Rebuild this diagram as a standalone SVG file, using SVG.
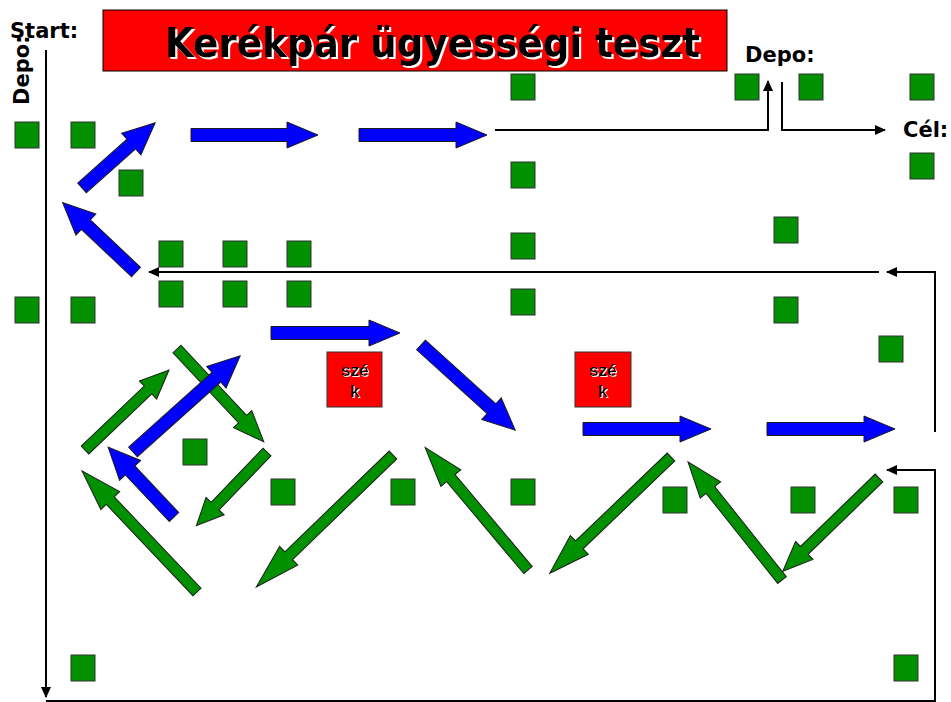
<svg xmlns="http://www.w3.org/2000/svg" width="951" height="702" viewBox="0 0 951 702">
<style>
.sq{fill:#009000;stroke:#333;stroke-width:1}
.ga{fill:#009000;stroke:#1a1a1a;stroke-width:1}
.ba{fill:#0000ff;stroke:#1a1a1a;stroke-width:1}
.ln{fill:none;stroke:#000;stroke-width:2}
.lbl{font-family:"DejaVu Sans",Verdana,sans-serif;font-weight:bold;font-size:21px;fill:#000}
.ttl{font-family:"DejaVu Sans",Verdana,sans-serif;font-weight:bold;font-size:40px;fill:#000}
.chair{font-family:"Liberation Sans",Arial,sans-serif;font-weight:bold;font-size:17px;text-anchor:middle;fill:#000}
</style>
<defs>
<marker id="ah" markerUnits="userSpaceOnUse" markerWidth="12" markerHeight="10" refX="10" refY="5" orient="auto">
<path d="M0,0 L11,5 L0,10 Z" fill="#000"/>
</marker>
<filter id="sh2" x="-5%" y="-20%" width="110%" height="140%">
<feFlood flood-color="#fff" result="w"/>
<feComposite in="w" in2="SourceAlpha" operator="in" result="ws"/>
<feOffset in="ws" dx="2" dy="2" result="off"/>
<feMerge><feMergeNode in="off"/><feMergeNode in="SourceGraphic"/></feMerge>
</filter>
<filter id="sh1" x="-10%" y="-20%" width="120%" height="140%">
<feFlood flood-color="#fff" result="w"/>
<feComposite in="w" in2="SourceAlpha" operator="in" result="ws"/>
<feOffset in="ws" dx="1" dy="1" result="off"/>
<feMerge><feMergeNode in="off"/><feMergeNode in="SourceGraphic"/></feMerge>
</filter>
</defs>
<rect width="951" height="702" fill="#fff"/>

<g id="title">
<rect x="103" y="10" width="624" height="61" fill="#ff0000" stroke="#000" stroke-width="1"/>
<text class="ttl" x="165" y="57" filter="url(#sh2)" textLength="535" lengthAdjust="spacingAndGlyphs">Kerékpár ügyességi teszt</text>
</g>

<g id="labels">
<text class="lbl" x="10" y="38">Start:</text>
<text class="lbl" transform="translate(29,105) rotate(-90)">Depo:</text>
<text class="lbl" x="745" y="62">Depo:</text>
<text class="lbl" x="903" y="137">Cél:</text>
</g>

<g id="connectors">
<path class="ln" d="M46,50 V697" marker-end="url(#ah)"/>
<path class="ln" d="M46,701 H935 V470 H887" marker-end="url(#ah)"/>
<path class="ln" d="M935,432 V272 H887" marker-end="url(#ah)"/>
<path class="ln" d="M879,272 H149" marker-end="url(#ah)"/>
<path class="ln" d="M495,130 H768 V81" marker-end="url(#ah)"/>
<path class="ln" d="M782,82 V130 H885" marker-end="url(#ah)"/>
</g>

<g id="cones">
<rect class="sq" x="15" y="122" width="24" height="26"/>
<rect class="sq" x="71" y="122" width="24" height="26"/>
<rect class="sq" x="119" y="170" width="24" height="26"/>
<rect class="sq" x="511" y="74" width="24" height="26"/>
<rect class="sq" x="735" y="74" width="24" height="26"/>
<rect class="sq" x="799" y="74" width="24" height="26"/>
<rect class="sq" x="910" y="74" width="24" height="26"/>
<rect class="sq" x="910" y="153" width="24" height="26"/>
<rect class="sq" x="511" y="162" width="24" height="26"/>
<rect class="sq" x="511" y="233" width="24" height="26"/>
<rect class="sq" x="511" y="289" width="24" height="26"/>
<rect class="sq" x="159" y="241" width="24" height="26"/>
<rect class="sq" x="223" y="241" width="24" height="26"/>
<rect class="sq" x="287" y="241" width="24" height="26"/>
<rect class="sq" x="159" y="281" width="24" height="26"/>
<rect class="sq" x="223" y="281" width="24" height="26"/>
<rect class="sq" x="287" y="281" width="24" height="26"/>
<rect class="sq" x="15" y="297" width="24" height="26"/>
<rect class="sq" x="71" y="297" width="24" height="26"/>
<rect class="sq" x="774" y="217" width="24" height="26"/>
<rect class="sq" x="774" y="297" width="24" height="26"/>
<rect class="sq" x="879" y="336" width="24" height="26"/>
<rect class="sq" x="183" y="439" width="24" height="26"/>
<rect class="sq" x="271" y="479" width="24" height="26"/>
<rect class="sq" x="391" y="479" width="24" height="26"/>
<rect class="sq" x="511" y="479" width="24" height="26"/>
<rect class="sq" x="663" y="487" width="24" height="26"/>
<rect class="sq" x="791" y="487" width="24" height="26"/>
<rect class="sq" x="894" y="487" width="24" height="26"/>
<rect class="sq" x="71" y="655" width="24" height="26"/>
<rect class="sq" x="894" y="655" width="24" height="26"/>
</g>

<g id="chair1">
<rect x="327" y="352" width="55" height="55" fill="#ff0000" stroke="#333" stroke-width="1"/>
<text class="chair" x="355" y="376" filter="url(#sh1)">szé</text>
<text class="chair" x="355" y="397" filter="url(#sh1)">k</text>
</g>
<g id="chair2">
<rect x="575" y="352" width="56" height="55" fill="#ff0000" stroke="#333" stroke-width="1"/>
<text class="chair" x="603" y="376" filter="url(#sh1)">szé</text>
<text class="chair" x="603" y="397" filter="url(#sh1)">k</text>
</g>

<g id="green-arrows">
<polygon class="ga" transform="translate(85,450) rotate(-43.6)" points="0,-5.5 87,-5.5 87,-12.5 116,0 87,12.5 87,5.5 0,5.5"/>
<polygon class="ga" transform="translate(177,349) rotate(46.9)" points="0,-5.5 96,-5.5 96,-12.5 127,0 96,12.5 96,5.5 0,5.5"/>
<polygon class="ga" transform="translate(267,452) rotate(133.8)" points="0,-5.5 75,-5.5 75,-12.5 102,0 75,12.5 75,5.5 0,5.5"/>
<polygon class="ga" transform="translate(197,592) rotate(-133.5)" points="0,-5.5 126,-5.5 126,-13 167,0 126,13 126,5.5 0,5.5"/>
<polygon class="ga" transform="translate(393,455) rotate(136)" points="0,-5.5 145,-5.5 145,-13 190,0 145,13 145,5.5 0,5.5"/>
<polygon class="ga" transform="translate(528,570) rotate(-130)" points="0,-5.5 120,-5.5 120,-13 160,0 120,13 120,5.5 0,5.5"/>
<polygon class="ga" transform="translate(671,457) rotate(136.2)" points="0,-5.5 127,-5.5 127,-13 168,0 127,13 127,5.5 0,5.5"/>
<polygon class="ga" transform="translate(782,580) rotate(-128.5)" points="0,-5.5 115,-5.5 115,-13 151,0 115,13 115,5.5 0,5.5"/>
<polygon class="ga" transform="translate(879,478) rotate(135.9)" points="0,-5.5 104,-5.5 104,-12.5 134,0 104,12.5 104,5.5 0,5.5"/>
</g>

<g id="blue-arrows">
<polygon class="ba" transform="translate(191,135)" points="0,-6.5 96,-6.5 96,-13 127,0 96,13 96,6.5 0,6.5"/>
<polygon class="ba" transform="translate(359,135)" points="0,-6.5 97,-6.5 97,-13 128,0 97,13 97,6.5 0,6.5"/>
<polygon class="ba" transform="translate(271,333)" points="0,-6.5 98,-6.5 98,-13 129,0 98,13 98,6.5 0,6.5"/>
<polygon class="ba" transform="translate(583,429)" points="0,-6.5 97,-6.5 97,-13 128,0 97,13 97,6.5 0,6.5"/>
<polygon class="ba" transform="translate(767,429)" points="0,-6.5 97,-6.5 97,-13 128,0 97,13 97,6.5 0,6.5"/>
<polygon class="ba" transform="translate(82,188) rotate(-41.7)" points="0,-6.5 66,-6.5 66,-14.5 98,0 66,14.5 66,6.5 0,6.5"/>
<polygon class="ba" transform="translate(136,272) rotate(-136.6)" points="0,-6.5 69,-6.5 69,-14.5 101,0 69,14.5 69,6.5 0,6.5"/>
<polygon class="ba" transform="translate(421,345) rotate(42.1)" points="0,-6.5 95,-6.5 95,-14.5 127,0 95,14.5 95,6.5 0,6.5"/>
<polygon class="ba" transform="translate(133,452) rotate(-41.9)" points="0,-6.5 112,-6.5 112,-14.5 144,0 112,14.5 112,6.5 0,6.5"/>
<polygon class="ba" transform="translate(174,517) rotate(-133.3)" points="0,-6.5 64,-6.5 64,-14.5 96,0 64,14.5 64,6.5 0,6.5"/>
</g>
</svg>
